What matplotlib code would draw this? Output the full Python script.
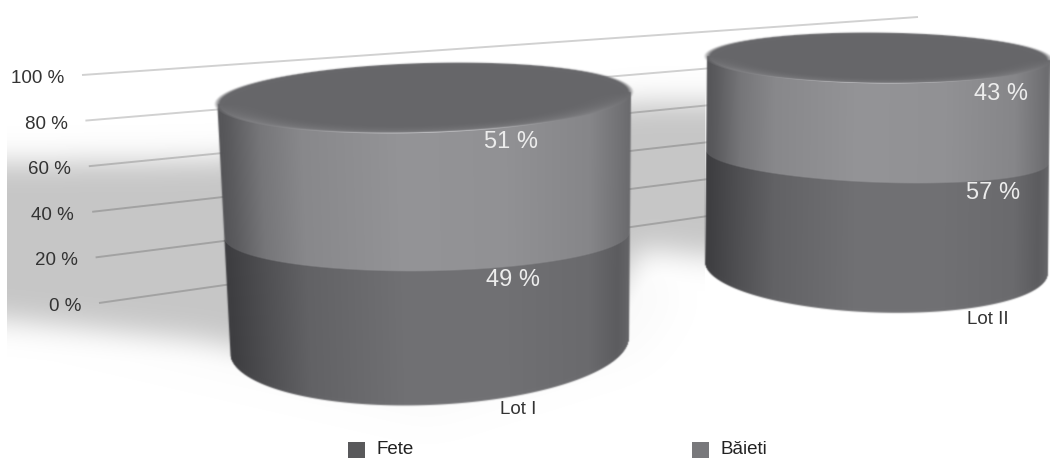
import numpy as np
import matplotlib
matplotlib.use('Agg')
import matplotlib.pyplot as plt
from matplotlib.path import Path

# ===========================
# DATA
# ===========================
categorii = ['Lot I', 'Lot II']
serii = ['Fete', 'Băieti']
fete = [49, 57]
baieti = [51, 43]
ticks_y = [0, 20, 40, 60, 80, 100]

# ===========================
# LAYOUT
# ===========================
W, H = 1050, 458
plt.rcParams['font.family'] = ['Liberation Sans', 'DejaVu Sans']

# cylinder geometry: (bottom, top) of the 0..100 % scale
CILINDRI = [
    dict(xl=(230, 217), xr=(629, 631), cy=(345, 98), b=(60, 35), tilt=(-0.0376, -0.012, -0.029),
         dx=(86, 87), etiqueta=(518, 408)),
    dict(xl=(705, 707), xr=(1048, 1050), cy=(267.5, 58), b=(45, 25.5), tilt=(0.032, 0.038, 0.01),
         dx=(116, 122), etiqueta=(988, 318)),
]

# grey level across the width of a cylinder, one ramp per series
U = [0, .03, .1, .2, .45, .7, .9, .97, 1]
RAMPA_FETE = [60, 66, 80, 98, 113, 112, 106, 92, 100]
RAMPA_BAIETI = [84, 92, 118, 136, 148, 145, 134, 115, 106]

yy, xx = np.mgrid[0:H, 0:W] + 0.5


def desfoca(img, sigma):
    raio = int(3 * sigma) + 1
    k = np.exp(-0.5 * (np.arange(-raio, raio + 1) / sigma) ** 2)
    k /= k.sum()
    pad = np.pad(img, raio, mode='edge')
    pad = np.apply_along_axis(lambda m: np.convolve(m, k, mode='same'), 0, pad)
    pad = np.apply_along_axis(lambda m: np.convolve(m, k, mode='same'), 1, pad)
    return pad[raio:-raio, raio:-raio]


def poligono(pts):
    inside = Path(pts).contains_points(np.c_[xx.ravel(), yy.ravel()])
    return inside.reshape(H, W).astype(float)


def nivel(c, v):
    # the scale is foreshortened towards the top of the cylinder
    s = (v / 100) ** 1.13
    xl = c['xl'][0] + (c['xl'][1] - c['xl'][0]) * s
    xr = c['xr'][0] + (c['xr'][1] - c['xr'][0]) * s
    cy = c['cy'][0] + (c['cy'][1] - c['cy'][0]) * s
    b = c['b'][1] + (c['b'][0] - c['b'][1]) * (1 - s) ** 5
    tilt = np.interp(s, [0, .5, 1], c['tilt'])
    return dict(cx=(xl + xr) / 2, a=(xr - xl) / 2, cy=cy, b=b, tilt=tilt)


def arco(n, x):
    # front edge of the ellipse at a given level
    t = np.clip((x - n['cx']) / n['a'], -1, 1)
    return n['cy'] + n['tilt'] * (x - n['cx']) + n['b'] * np.sqrt(1 - t ** 2)


def cilindro(c, valor_fete):
    base = nivel(c, 0)
    emenda = nivel(c, valor_fete)
    topo = nivel(c, 100)

    # left and right silhouette follow the perspective
    t = (c['cy'][0] - yy) / (c['cy'][0] - c['cy'][1])
    xl = c['xl'][0] + (c['xl'][1] - c['xl'][0]) * t
    xr = c['xr'][0] + (c['xr'][1] - c['xr'][0]) * t
    u = np.clip((xx - xl) / (xr - xl), 0, 1)

    inferior = np.interp(u, U, RAMPA_FETE)
    superior = np.interp(u, U, RAMPA_BAIETI)
    m = np.clip((arco(emenda, xx) - yy) / 1.5 + .5, 0, 1)
    g = m * superior + (1 - m) * inferior

    centro = topo['cy'] + topo['tilt'] * (xx - topo['cx'])
    corpo = (np.clip(xx - xl + .5, 0, 1) * np.clip(xr - xx + .5, 0, 1)
             * np.clip(arco(base, xx) - yy + .5, 0, 1) * (yy > centro))

    # top disc: flat in the middle, lighter only along the front rim
    dx = (xx - topo['cx']) / topo['a']
    dy = (yy - centro) / topo['b']
    r = np.sqrt(dx ** 2 + dy ** 2)
    disco = np.clip((1 - r) * topo['b'] + .5, 0, 1)
    frente = np.clip(dy, 0, 1)
    borda = np.clip((r - .74) / .26, 0, 1) ** 2
    gd = 102 + 24 * borda * np.clip(frente * 2.0, 0, 1)
    gd = gd + 70 * np.exp(-((r - .995) / .03) ** 2) * frente ** 6

    g = disco * gd + (1 - disco) * g
    alfa = desfoca(np.maximum(corpo, disco), 0.7)
    rgba = np.dstack([g / 255, g / 255, (g + 3) / 255, alfa])
    return np.clip(rgba, 0, 1)


# ===========================
# FIGURE
# ===========================
fig = plt.figure(figsize=(W / 100, H / 100), dpi=100)
ax = fig.add_axes([0, 0, 1, 1])
extent = (0, W, H, 0)

# soft floor shadow behind the grid lines
sombra = desfoca(poligono([(-80, 163), (215, 160), (640, 102), (800, 102), (800, 262), (700, 255),
                           (640, 248), (600, 330), (430, 385), (200, 340), (-80, 311)]), 14)
halo = desfoca(poligono([(-80, 300), (430, 418), (640, 352), (675, 300), (640, 240), (-80, 240)]), 18)
sombra = np.maximum(sombra, 0.08 * halo)
sombra[:, :7] = 0
sombra[:, 705:] = 0
ax.imshow(np.dstack([np.full((H, W, 3), 198 / 255), sombra]), extent=extent, aspect='auto', zorder=1)

# value axis: grid lines converge towards the right
for v in ticks_y:
    x0 = 99 - 0.17 * v
    y0 = 303 - 2.28 * v
    y1 = 186 - 1.69 * v
    ax.plot([x0, 918], [y0, y1], color='black', alpha=0.18, lw=1.4, zorder=2, solid_capstyle='butt')
    ax.text(x0 - 18, y0 + 3.5, f'{v} %', ha='right', va='center', fontsize=13.5, color='#333333', zorder=3)

for i, c in enumerate(CILINDRI):
    ax.imshow(cilindro(c, fete[i]), extent=extent, aspect='auto', zorder=4)

    # value labels just under the front edge of each segment
    emenda = nivel(c, fete[i])
    topo = nivel(c, 100)
    extra = 2 if i == 1 else 0
    ax.text(emenda['cx'] + c['dx'][0], emenda['cy'] + emenda['b'] + 9 + extra, f'{fete[i]} %',
            ha='center', va='center', fontsize=17, color='#ececec', zorder=5)
    ax.text(topo['cx'] + c['dx'][1], topo['cy'] + topo['b'] + 9 + extra, f'{baieti[i]} %',
            ha='center', va='center', fontsize=17, color='#ececec', zorder=5)
    ax.text(c['etiqueta'][0], c['etiqueta'][1] + 1.5, categorii[i], ha='center', va='center',
            fontsize=13.5, color='#333333', zorder=5)

# legend
for nome, cor, xq in zip(serii, ['#59595b', '#78787b'], [348, 692]):
    ax.fill([xq, xq + 17, xq + 17, xq], [442, 442, 458, 458], color=cor, lw=0, zorder=5)
    ax.text(xq + 28, 449.5, nome, ha='left', va='center', fontsize=13.5, color='#222222', zorder=5)

ax.set_xlim(0, W)
ax.set_ylim(H, 0)
ax.axis('off')
fig.savefig('out.png', dpi=100, facecolor='white')
